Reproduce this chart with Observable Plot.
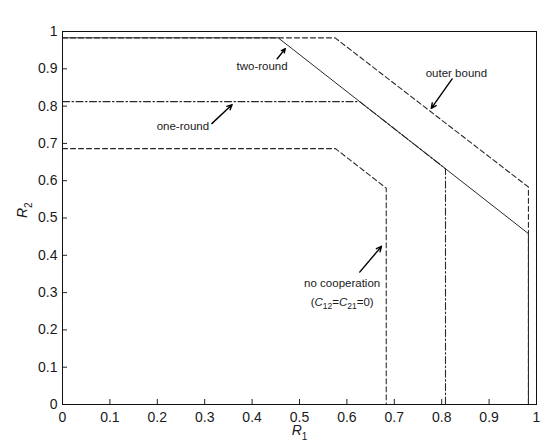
<!DOCTYPE html>
<html><head><meta charset="utf-8">
<script src="https://cdn.jsdelivr.net/npm/d3@7"></script>
<script src="https://cdn.jsdelivr.net/npm/@observablehq/plot@0.6"></script>
<style>
body{margin:0;background:#fff;}
#chart svg{font-family: Arial, "Liberation Sans", Helvetica, sans-serif;}
</style></head><body><div id="chart"></div>
<script>
// tick values and labels
const xTicks = [0, 0.1, 0.2, 0.3, 0.4, 0.5, 0.6, 0.7, 0.8, 0.9, 1];
const yTicks = [0, 0.1, 0.2, 0.3, 0.4, 0.5, 0.6, 0.7, 0.8, 0.9, 1];
const tickLabels = ["0", "0.1", "0.2", "0.3", "0.4", "0.5", "0.6", "0.7", "0.8", "0.9", "1"];

// series (R1, R2) vertices
const outerR1 = [0, 0.575, 0.983, 0.983];
const outerR2 = [0.983, 0.983, 0.583, 0];
const twoRoundR1 = [0, 0.455, 0.983, 0.983];
const twoRoundR2 = [0.983, 0.983, 0.458, 0];
const oneRoundR1 = [0, 0.627, 0.808, 0.808];
const oneRoundR2 = [0.812, 0.812, 0.632, 0];
const noCoopR1 = [0, 0.576, 0.683, 0.683];
const noCoopR2 = [0.686, 0.686, 0.58, 0];

// annotations
const labelNames = ["two-round", "one-round", "outer bound", "no cooperation"];
const labelR1 = [0.421, 0.254, 0.831, 0.590];
const labelR2 = [0.907, 0.745, 0.887, 0.324];
const coopNote = ["(C12=C21=0)"];
const coopNoteR1 = [0.590];
const coopNoteR2 = [0.274];
const arrowFromR1 = [0.453, 0.315, 0.822, 0.627];
const arrowFromR2 = [0.927, 0.753, 0.873, 0.355];
const arrowToR1 = [0.470, 0.358, 0.778, 0.673];
const arrowToR2 = [0.954, 0.804, 0.794, 0.424];

const pts = (xs, ys) => xs.map((x, i) => ({x, y: ys[i]}));
const outer = pts(outerR1, outerR2);
const twoRound = pts(twoRoundR1, twoRoundR2);
const oneRound = pts(oneRoundR1, oneRoundR2);
const noCoop = pts(noCoopR1, noCoopR2);
const labels = labelNames.map((t, i) => ({t, x: labelR1[i], y: labelR2[i]}));
const note = coopNote.map((t, i) => ({t, x: coopNoteR1[i], y: coopNoteR2[i]}));
const arrows = arrowFromR1.map((x1, i) => ({x1, y1: arrowFromR2[i], x2: arrowToR1[i], y2: arrowToR2[i]}));
const fmt = d => tickLabels[xTicks.indexOf(d)];

const lineColor = "#2a2a2a";
const chart = Plot.plot({
  width: 560, height: 448,
  marginLeft: 62, marginRight: 24, marginTop: 31, marginBottom: 44,
  style: {fontFamily: "Arial, 'Liberation Sans', Helvetica, sans-serif", fontSize: "14px", color: "#1a1a1a", background: "#fff"},
  x: {domain: [0, 1]},
  y: {domain: [0, 1]},
  marks: [
    Plot.axisX({ticks: xTicks, tickSize: 0, tickPadding: 8, tickFormat: fmt, label: null, fontSize: 14}),
    Plot.axisY({ticks: yTicks, tickSize: 0, tickPadding: 5, tickFormat: fmt, label: null, fontSize: 14}),
    Plot.axisX({ticks: xTicks, tickSize: -5, tickFormat: () => "", label: null, stroke: "#222"}),
    Plot.axisY({ticks: yTicks, tickSize: -5, tickFormat: () => "", label: null, stroke: "#222"}),
    Plot.line(twoRound, {x: "x", y: "y", stroke: lineColor, strokeWidth: 1}),
    Plot.line(oneRound, {x: "x", y: "y", stroke: lineColor, strokeWidth: 1.1, strokeDasharray: "7,2.5,1.5,2.5"}),
    Plot.line(noCoop, {x: "x", y: "y", stroke: lineColor, strokeWidth: 1.1, strokeDasharray: "5,3"}),
    Plot.line(outer, {x: "x", y: "y", stroke: lineColor, strokeWidth: 1.1, strokeDasharray: "5,3"}),
    Plot.arrow(arrows, {x1: "x1", y1: "y1", x2: "x2", y2: "y2", stroke: "#000", strokeWidth: 1.4, headLength: 6, headAngle: 50}),
    Plot.text(labels, {x: "x", y: "y", text: "t", fontSize: 11.5, fill: "#1a1a1a"}),
    Plot.text(note, {x: "x", y: "y", text: "t", fontSize: 11.5, fill: "#1a1a1a"}),
    Plot.text(["R1"], {frameAnchor: "bottom", dy: 30, text: d => d, fontSize: 14, fill: "#1a1a1a"}),
    Plot.text(["R2"], {frameAnchor: "left", dx: -40, rotate: -90, text: d => d, fontSize: 14, fill: "#1a1a1a"}),
    Plot.frame({stroke: "#111", strokeWidth: 1})
  ]
});
document.getElementById("chart").appendChild(chart);

const byText = s => d3.select(chart).selectAll("text").filter(function () { return this.textContent === s; });
byText("R1").html('<tspan font-style="italic">R</tspan><tspan dy="5" font-size="10">1</tspan>');
byText("R2").html('<tspan font-style="italic">R</tspan><tspan dy="5" font-size="10">2</tspan>');
byText("(C12=C21=0)").html('(<tspan font-style="italic">C</tspan><tspan dy="3" font-size="8.5">12</tspan><tspan dy="-3">=</tspan><tspan font-style="italic">C</tspan><tspan dy="3" font-size="8.5">21</tspan><tspan dy="-3">=0)</tspan>');
</script></body></html>
